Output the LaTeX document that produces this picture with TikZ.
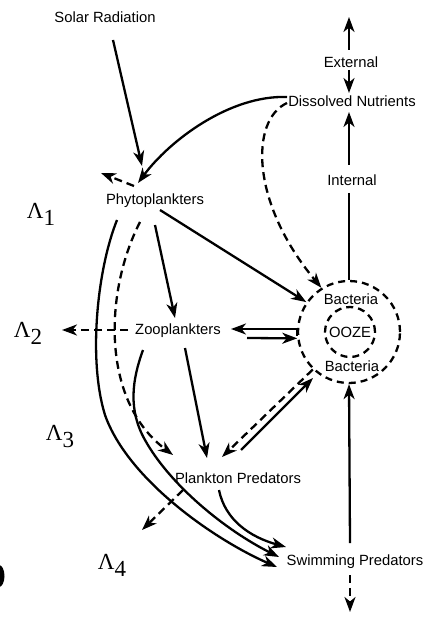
\documentclass[tikz,border=0pt]{standalone}
\usepackage{fontspec}
\setmainfont{Liberation Sans}
\newfontfamily\serifL{Liberation Serif}
\usetikzlibrary{arrows.meta}
\begin{document}
\begin{tikzpicture}[x=1pt,y=-1pt,
  lbl/.style={font=\fontsize{14.8}{16}\selectfont, inner sep=0pt},
  lam/.style={font=\serifL\fontsize{23}{23}\selectfont, inner sep=0pt},
  ln/.style={line width=2.3pt},
  arr/.style={ln, -{Stealth[length=15pt,width=11pt,inset=4.5pt]}},
  dsh/.style={dash pattern=on 8pt off 5pt},
  ring/.style={draw, circle, line width=2.3pt, dash pattern=on 7pt off 5pt, inner sep=0pt},
]
\useasboundingbox (0,0) rectangle (428,617);
\clip (0,0) rectangle (428,617);

% nodes
\node[lbl] (sun) at (105,17) {Solar Radiation};
\node[lbl] (ext) at (351,62) {External};
\node[lbl] (dn)  at (352,101) {Dissolved Nutrients};
\node[lbl] (int) at (352,180) {Internal};
\node[lbl] (phy) at (155,201) {Phytoplankters};
\node[lbl] (zoo) at (178,331) {Zooplankters};
\node[lbl] (pp)  at (238,478) {Plankton Predators};
\node[lbl] (sw)  at (355,562) {Swimming Predators};
\node[ring, minimum size=102pt] (bac) at (349,332) {};
\node[ring, minimum size=50pt] (ooze) at (350,332) {};
\node[lbl] (ootext) at (350,332) {OOZE};
\node[lbl] (b1) at (351,299) {Bacteria};
\node[lbl] (b2) at (352,366) {Bacteria};
\node[lam] (l1) at (41,214) {Λ\raisebox{-7pt}{1}};
\node[lam] (l2) at (28,333) {Λ\raisebox{-7pt}{2}};
\node[lam] (l3) at (60,437) {Λ\raisebox{-7pt}{3}};
\node[lam] (l4) at (112,565) {Λ\raisebox{-7pt}{4}};
\fill (-1,576) ellipse [x radius=5.5, y radius=11];

% connectors
\draw[arr] ([shift={(8,23)}]sun.center) -- ([shift={(-13,-35)}]phy.center);
\draw[arr] ([shift={(-65,-4)}]dn.center) .. controls +(-57,-2) and +(32,-43) .. ([shift={(-17,-18)}]phy.center);
\draw[arr,dsh] ([shift={(-21,-15)}]phy.center) -- ([shift={(-54,-28)}]phy.center);
\draw[arr,dsh] ([shift={(-65,2)}]dn.center) .. controls +(-37,17) and +(-71,-85) .. (bac.122);
\draw[arr] ([shift={(-3,-15)}]int.center) -- ([shift={(-3,11)}]dn.center);
\draw[arr] ([shift={(-2,-12)}]ext.center) -- ([shift={(-2,-45)}]ext.center);
\draw[arr] ([shift={(-2,8)}]ext.center) -- ([shift={(-3,-8)}]dn.center);
\draw[ln] ([shift={(-3,13)}]int.center) -- (bac.90);
\draw[arr] ([shift={(5,9)}]phy.center) -- (bac.145);
\draw[arr] ([shift={(0,24)}]phy.center) -- ([shift={(-3,-13)}]zoo.center);
\draw[arr,dsh] ([shift={(-15,21)}]phy.center) .. controls +(-35,68) and +(-73,-55) .. ([shift={(-65,-23)}]pp.center);
\draw[arr] ([shift={(-38,19)}]phy.center) .. controls (97,270) and (88,360) .. (105,415)
   .. controls (128,480) and (215,540) .. ([shift={(-78,5)}]sw.center);
\draw[arr] ([shift={(-35,19)}]zoo.center) .. controls (132,380) and (128,410) .. (145,440)
   .. controls (170,485) and (225,530) .. ([shift={(-76,-5)}]sw.center);
\draw[arr] ([shift={(-19,12)}]pp.center) .. controls +(6,30) and +(-36,-10) .. ([shift={(-69,-15)}]sw.center);
\draw[arr] ([shift={(7,17)}]zoo.center) -- ([shift={(-31,-20)}]pp.center);
\draw[arr,dsh] ([shift={(-50,-1)}]zoo.center) -- ([shift={(34,-3)}]l2.center);
\draw[arr] (bac.184) |- ([shift={(53,-2)}]zoo.center);
\draw[arr] ([shift={(69,7)}]zoo.center) -- (bac.187);
\draw[arr,dsh] (bac.226) -- ([shift={(-16,-21)}]pp.center);
\draw[arr] ([shift={(3,-28)}]pp.center) -- ([shift={(-36,46)}]bac.center);
\draw[arr] ([shift={(-5,-19)}]sw.center) -- (bac.270);
\draw[arr,dsh] ([shift={(-5,13)}]sw.center) -- ([shift={(-5,50)}]sw.center);
\draw[arr,dsh] ([shift={(-55,12)}]pp.center) -- ([shift={(-96,52)}]pp.center);
\end{tikzpicture}
\end{document}
